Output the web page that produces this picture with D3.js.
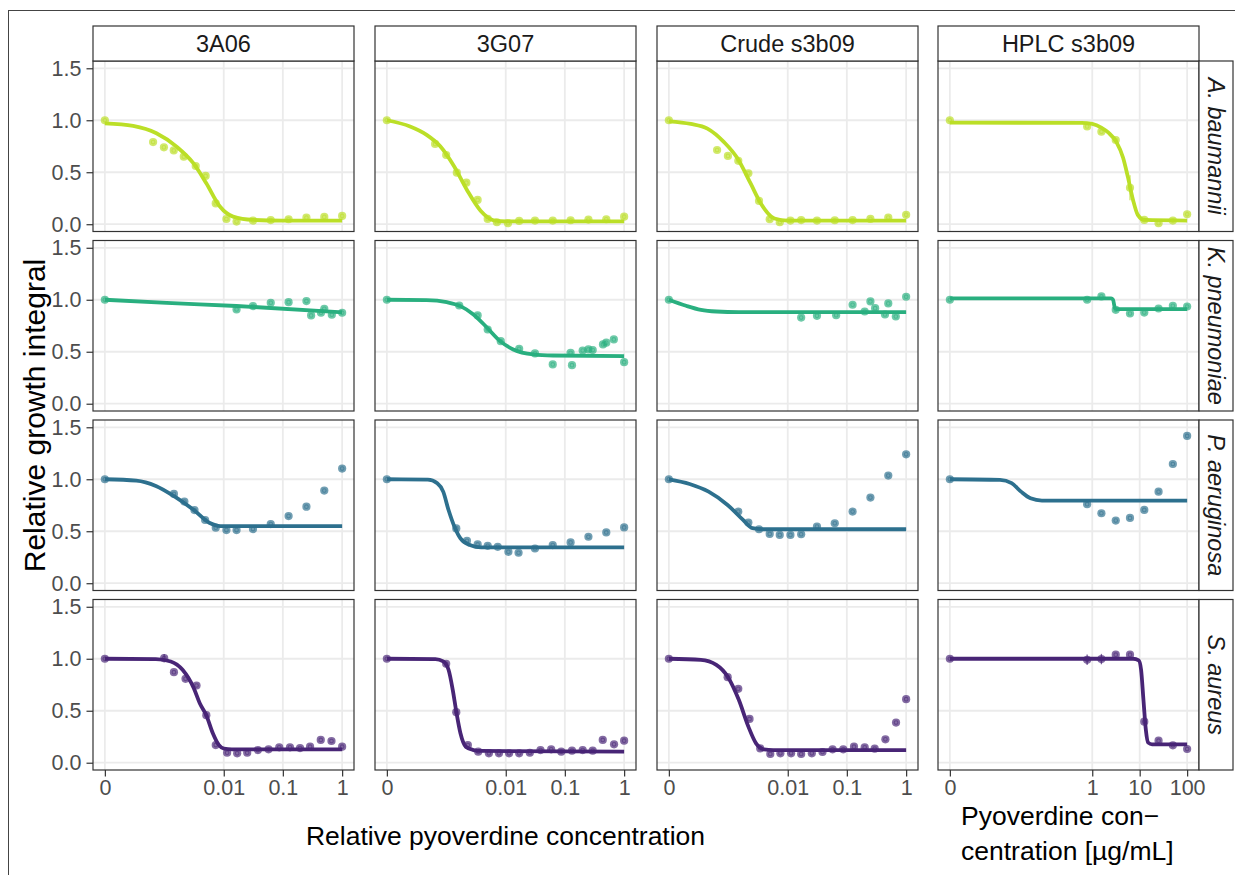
<!DOCTYPE html>
<html><head><meta charset="utf-8">
<script src="https://cdn.jsdelivr.net/npm/d3@7"></script>
<style>body{margin:0;background:#fff} svg text{font-family:"Liberation Sans",Arial,sans-serif}</style>
</head><body><svg id="chart" width="1235" height="875"></svg>
<script>
// ---------------- DATA ----------------
const columns = ["3A06", "3G07", "Crude s3b09", "HPLC s3b09"];
const species = ["A. baumannii", "K. pneumoniae", "P. aeruginosa", "S. aureus"];
const speciesColors = ["#BBDF27", "#29AF7F", "#2D708E", "#482576"];
const yTicks = [0, 0.5, 1.0, 1.5];
const yTickLabels = ["0.0", "0.5", "1.0", "1.5"];
const xTicksRelative = [0, 0.01, 0.1, 1];
const xTickLabelsRelative = ["0", "0.01", "0.1", "1"];
const xTicksHPLC = [0, 1, 10, 100];
const xTickLabelsHPLC = ["0", "1", "10", "100"];
const xTitleRelative = "Relative pyoverdine concentration";
const xTitleHPLC = ["Pyoverdine con\u2212", "centration [\u00b5g/mL]"];
const yTitle = "Relative growth integral";

// observations: [concentration, relative growth integral, optional error half-width]
const pts_Ab_3A06 = [[0,1.0],[0.00055,0.79],[0.00089,0.74],[0.00135,0.71],[0.00204,0.65],[0.0033,0.56],[0.0049,0.465],[0.0073,0.2],[0.0111,0.05],[0.0165,0.025],[0.0313,0.035],[0.0625,0.04],[0.125,0.048],[0.25,0.063],[0.5,0.07],[1,0.08]];
const pts_Ab_3G07 = [[0,1.0],[0.00055,0.772],[0.0009,0.666],[0.00141,0.496],[0.00209,0.40],[0.00329,0.234],[0.00491,0.051],[0.00706,0.019],[0.0109,0.01],[0.0169,0.032],[0.0313,0.035],[0.0625,0.035],[0.125,0.038],[0.25,0.045],[0.5,0.048],[1,0.073]];
const pts_Ab_Crude = [[0,1.0],[0.00055,0.714],[0.00089,0.657],[0.00138,0.61],[0.00209,0.49],[0.00321,0.224],[0.00491,0.048],[0.00731,0.019],[0.0111,0.035],[0.0169,0.04],[0.0313,0.035],[0.0625,0.038],[0.125,0.04],[0.25,0.051],[0.5,0.064],[1,0.09]];
const pts_Ab_HPLC = [[0,1.0],[0.78,0.94],[1.56,0.89],[3.13,0.81],[6.25,0.35,0.12],[12.5,0.041],[25,0.01],[50,0.035],[100,0.096]];

const pts_Kp_3A06 = [[0,1.0],[0.0165,0.907],[0.0313,0.939],[0.0625,0.971],[0.125,0.977],[0.25,0.987],[0.30,0.849],[0.44,0.875],[0.5,0.913],[0.67,0.856],[1,0.875]];
const pts_Kp_3G07 = [[0,1.0],[0.00156,0.945],[0.00329,0.849],[0.00491,0.714],[0.00822,0.602],[0.0169,0.529],[0.0313,0.484],[0.0625,0.378],[0.125,0.49],[0.132,0.371],[0.2,0.512],[0.25,0.522],[0.295,0.516],[0.44,0.57],[0.5,0.587],[0.67,0.618],[1,0.40]];
const pts_Kp_Crude = [[0,1.0],[0.0169,0.829],[0.0313,0.845],[0.066,0.852],[0.125,0.952],[0.2,0.887],[0.25,0.984],[0.3,0.919],[0.44,0.858],[0.5,0.965],[0.67,0.839],[1,1.029]];
const pts_Kp_HPLC = [[0,1.0],[0.78,1.0],[1.56,1.032],[3.13,0.903],[6.25,0.868],[12.5,0.877],[25,0.916],[50,0.942],[100,0.935]];

const pts_Pa_3A06 = [[0,1.0],[0.00136,0.859],[0.00209,0.785],[0.00314,0.704],[0.0048,0.608],[0.0073,0.534],[0.0111,0.511],[0.0165,0.511],[0.0313,0.521],[0.0625,0.569],[0.125,0.646],[0.25,0.736],[0.5,0.891],[1,1.103]];
const pts_Pa_3G07 = [[0,1.0],[0.00138,0.527],[0.00214,0.408],[0.00329,0.373],[0.00491,0.36],[0.0073,0.35],[0.0111,0.302],[0.0165,0.293],[0.0313,0.334],[0.0625,0.367],[0.125,0.392],[0.25,0.447],[0.5,0.489],[1,0.537]];
const pts_Pa_Crude = [[0,1.0],[0.00138,0.689],[0.00209,0.583],[0.00321,0.519],[0.00491,0.474],[0.0073,0.465],[0.0111,0.465],[0.0169,0.471],[0.0313,0.545],[0.0625,0.577],[0.125,0.689],[0.25,0.824],[0.5,1.035],[1,1.24]];
const pts_Pa_HPLC = [[0,1.0],[0.78,0.76],[1.56,0.673],[3.13,0.603],[6.25,0.628],[12.5,0.705],[25,0.881],[50,1.147],[100,1.417]];

const pts_Sa_3A06 = [[0,1.0],[0.0009,1.006,0.04],[0.00136,0.871],[0.00219,0.807],[0.00341,0.743],[0.00503,0.457],[0.0073,0.17],[0.0114,0.096],[0.0169,0.09],[0.025,0.096],[0.0379,0.122],[0.0574,0.129],[0.087,0.148],[0.132,0.148],[0.195,0.141],[0.288,0.154],[0.436,0.219],[0.661,0.209],[1,0.154]];
const pts_Sa_3G07 = [[0,1.0],[0.0009,0.952],[0.00138,0.486],[0.00222,0.17],[0.00337,0.106],[0.00515,0.09],[0.00766,0.09],[0.0114,0.09],[0.0169,0.09],[0.0256,0.096],[0.0388,0.122],[0.0588,0.129],[0.087,0.106],[0.132,0.116],[0.2,0.122],[0.295,0.116],[0.436,0.219],[0.676,0.177],[1,0.212]];
const pts_Sa_Crude = [[0,1.0],[0.00088,0.823],[0.00138,0.711],[0.00219,0.421],[0.00337,0.138],[0.00503,0.084],[0.00749,0.09],[0.0114,0.09],[0.0169,0.084],[0.0256,0.09],[0.0388,0.103],[0.0574,0.129],[0.087,0.129],[0.132,0.154],[0.2,0.148],[0.295,0.135],[0.447,0.225],[0.676,0.386],[1,0.611]];
const pts_Sa_HPLC = [[0,1.0],[0.78,0.99,0.05],[1.56,0.997,0.05],[3.13,1.039],[6.25,1.039],[12.5,0.395],[25,0.212],[50,0.167],[100,0.132]];

// fitted dose-response curves: [concentration, value]
const fit_Ab_3A06 = [[0,0.97],[0.0002,0.945],[0.00064,0.875],[0.00152,0.746],[0.003,0.587],[0.00503,0.394],[0.0086,0.17],[0.0144,0.073],[0.0315,0.041],[0.1,0.035],[1,0.035]];
const fit_Ab_3G07 = [[0,1.0],[0.000146,0.94],[0.000368,0.86],[0.000694,0.75],[0.00125,0.56],[0.00214,0.33],[0.0037,0.13],[0.00621,0.038],[0.0104,0.027],[1,0.027]];
const fit_Ab_Crude = [[0,0.99],[0.000134,0.965],[0.000347,0.92],[0.000751,0.79],[0.00135,0.63],[0.0023,0.39],[0.00345,0.2],[0.00593,0.055],[0.0099,0.035],[1,0.035]];
const fit_Ab_HPLC = [[0,0.977],[0.6,0.975],[1.0,0.965],[1.55,0.93],[2.2,0.88],[3.24,0.79],[4.47,0.64],[5.62,0.458],[7.24,0.234],[9.12,0.09],[12.6,0.041],[100,0.035]];

const fit_Kp_3A06 = [[0,1.0],[0.001,0.97],[0.0165,0.94],[1,0.88]];
const fit_Kp_3G07 = [[0,1.0],[0.000368,0.997],[0.000923,0.977],[0.00164,0.939],[0.00278,0.859],[0.0048,0.731],[0.00803,0.602],[0.0134,0.522],[0.0294,0.474],[0.063,0.464],[1,0.458]];
const fit_Kp_Crude = [[0,1.0],[0.000095,0.942],[0.000247,0.903],[0.000531,0.887],[0.00141,0.881],[1,0.881]];
const fit_Kp_HPLC = [[0,1.013],[2.5,1.013],[2.75,1.0],[3.0,0.92],[3.2,0.91],[100,0.91]];

const fit_Pa_3A06 = [[0,1.0],[0.000239,0.987],[0.000624,0.936],[0.00141,0.833],[0.00306,0.704],[0.00565,0.582],[0.00881,0.55],[0.0137,0.55],[1,0.55]];
const fit_Pa_3G07 = [[0,1.0],[0.00039,0.997],[0.000608,0.961],[0.000791,0.881],[0.000996,0.704],[0.00128,0.543],[0.00164,0.431],[0.00241,0.367],[0.00379,0.344],[1,0.344]];
const fit_Pa_Crude = [[0,1.0],[0.000124,0.955],[0.000368,0.881],[0.000877,0.753],[0.00168,0.609],[0.00247,0.529],[0.00362,0.519],[1,0.519]];
const fit_Pa_HPLC = [[0,1.0],[0.0104,0.994],[0.019,0.962],[0.0306,0.881],[0.0491,0.817],[0.0861,0.795],[100,0.795]];

const fit_Sa_3A06 = [[0,1.0],[0.000624,0.997],[0.00119,0.974],[0.00194,0.894],[0.00306,0.717],[0.00388,0.572],[0.00503,0.457],[0.00651,0.283],[0.00822,0.171],[0.0101,0.135],[0.0137,0.129],[1,0.129]];
const fit_Sa_3G07 = [[0,1.0],[0.000561,0.997],[0.000791,0.974],[0.000996,0.894],[0.00119,0.701],[0.00138,0.492],[0.00164,0.283],[0.00204,0.154],[0.00278,0.122],[0.00379,0.113],[1,0.106]];
const fit_Sa_Crude = [[0,1.0],[0.000247,0.99],[0.000531,0.942],[0.000877,0.83],[0.00141,0.605],[0.00209,0.347],[0.00285,0.186],[0.00388,0.129],[0.00565,0.122],[1,0.122]];
const fit_Sa_HPLC = [[0,1.0],[7.24,1.0],[9.55,0.984],[10.7,0.894],[12.0,0.605],[13.5,0.315],[15.1,0.193],[18.2,0.177],[100,0.177]];

const pointsGrid = [
  [pts_Ab_3A06, pts_Ab_3G07, pts_Ab_Crude, pts_Ab_HPLC],
  [pts_Kp_3A06, pts_Kp_3G07, pts_Kp_Crude, pts_Kp_HPLC],
  [pts_Pa_3A06, pts_Pa_3G07, pts_Pa_Crude, pts_Pa_HPLC],
  [pts_Sa_3A06, pts_Sa_3G07, pts_Sa_Crude, pts_Sa_HPLC]
];
const fitGrid = [
  [fit_Ab_3A06, fit_Ab_3G07, fit_Ab_Crude, fit_Ab_HPLC],
  [fit_Kp_3A06, fit_Kp_3G07, fit_Kp_Crude, fit_Kp_HPLC],
  [fit_Pa_3A06, fit_Pa_3G07, fit_Pa_Crude, fit_Pa_HPLC],
  [fit_Sa_3A06, fit_Sa_3G07, fit_Sa_Crude, fit_Sa_HPLC]
];

// ---------------- LAYOUT ----------------
const svg = d3.select("#chart");
const colX = [93, 375, 657, 938], panelW = 261;
const rowY = [61, 240.5, 420, 599.5], panelH = 170.5;
const stripTop = 26, stripH = 35, rStripX = 1199, rStripW = 34;
const tickFont = 21.5, stripFont = 23.5, titleFont = 26.5, yTitleFont = 30;
const gridColor = "#EBEBEB", borderColor = "#333333", tickTextColor = "#4D4D4D";

svg.append("rect").attr("x", 8.5).attr("y", 10.5).attr("width", 1240).attr("height", 880)
  .attr("fill", "none").attr("stroke", "#444").attr("stroke-width", 1);

function makeX(col) {
  const hplc = col === 3;
  const c = hplc ? 1e-3 : 1e-4, maxV = hplc ? 100 : 1;
  const T = Math.log1p(maxV / c), e = 0.05 * T;
  return d3.scaleSymlog().constant(c)
    .domain([-c * Math.expm1(e), c * Math.expm1(T + e)])
    .range([colX[col], colX[col] + panelW]);
}
function makeY(row) {
  return d3.scaleLinear().domain([-0.07, 1.57]).range([rowY[row] + panelH, rowY[row]]);
}

for (let r = 0; r < 4; r++) {
  for (let c = 0; c < 4; c++) {
    const x = makeX(c), y = makeY(r);
    const xt = c === 3 ? xTicksHPLC : xTicksRelative;
    const g = svg.append("g");
    g.append("rect").attr("x", colX[c]).attr("y", rowY[r]).attr("width", panelW).attr("height", panelH).attr("fill", "#fff");
    g.selectAll(".gy").data(yTicks).join("line")
      .attr("x1", colX[c]).attr("x2", colX[c] + panelW)
      .attr("y1", d => y(d)).attr("y2", d => y(d))
      .attr("stroke", gridColor).attr("stroke-width", 1.8);
    g.selectAll(".gx").data(xt).join("line")
      .attr("x1", d => x(d)).attr("x2", d => x(d))
      .attr("y1", rowY[r]).attr("y2", rowY[r] + panelH)
      .attr("stroke", gridColor).attr("stroke-width", 1.8);
    const col = speciesColors[r];
    const line = d3.line().x(d => x(d[0])).y(d => y(d[1])).curve(d3.curveMonotoneX);
    g.append("path").datum(fitGrid[r][c]).attr("d", line)
      .attr("fill", "none").attr("stroke", col).attr("stroke-width", 3.8).attr("stroke-linejoin", "round");
    const pts = pointsGrid[r][c];
    g.selectAll(".eb").data(pts.filter(d => d.length > 2)).join("line")
      .attr("x1", d => x(d[0])).attr("x2", d => x(d[0]))
      .attr("y1", d => y(d[1] - d[2])).attr("y2", d => y(d[1] + d[2]))
      .attr("stroke", col).attr("stroke-width", 1.3).attr("opacity", 0.7);
    g.selectAll(".pt").data(pts).join("circle")
      .attr("cx", d => x(d[0])).attr("cy", d => y(d[1])).attr("r", 4.1)
      .attr("fill", col).attr("fill-opacity", 0.68);
    g.selectAll(".pr").data(pts).join("circle")
      .attr("cx", d => x(d[0])).attr("cy", d => y(d[1])).attr("r", 1.8)
      .attr("fill", "none").attr("stroke", col).attr("stroke-width", 1.1).attr("stroke-opacity", 0.55);
    g.append("rect").attr("x", colX[c]).attr("y", rowY[r]).attr("width", panelW).attr("height", panelH)
      .attr("fill", "none").attr("stroke", borderColor).attr("stroke-width", 1.2);

    if (c === 0) {
      const ax = svg.append("g").attr("transform", `translate(${colX[0]},0)`)
        .call(d3.axisLeft(y).tickValues(yTicks).tickFormat((d, i) => yTickLabels[i]).tickSize(6.5).tickPadding(5));
      ax.select(".domain").remove();
      ax.selectAll("line").attr("stroke", borderColor).attr("stroke-width", 1.2);
      ax.selectAll("text").attr("font-size", tickFont).attr("fill", tickTextColor)
        .attr("font-family", '"Liberation Sans",Arial,sans-serif');
    }
    if (r === 3) {
      const labs = c === 3 ? xTickLabelsHPLC : xTickLabelsRelative;
      const ax = svg.append("g").attr("transform", `translate(0,${rowY[3] + panelH})`)
        .call(d3.axisBottom(x).tickValues(xt).tickFormat((d, i) => labs[i]).tickSize(6.5).tickPadding(3.5));
      ax.select(".domain").remove();
      ax.selectAll("line").attr("stroke", borderColor).attr("stroke-width", 1.2);
      ax.selectAll("text").attr("font-size", tickFont).attr("fill", tickTextColor)
        .attr("font-family", '"Liberation Sans",Arial,sans-serif');
    }
  }
}

// top strips
columns.forEach((name, c) => {
  svg.append("rect").attr("x", colX[c]).attr("y", stripTop).attr("width", panelW).attr("height", stripH)
    .attr("fill", "#fff").attr("stroke", borderColor).attr("stroke-width", 1.2);
  svg.append("text").attr("x", colX[c] + panelW / 2).attr("y", 52).attr("text-anchor", "middle")
    .attr("font-size", stripFont).attr("fill", "#1A1A1A").text(name);
});
// right strips
species.forEach((name, r) => {
  svg.append("rect").attr("x", rStripX).attr("y", rowY[r]).attr("width", rStripW).attr("height", panelH)
    .attr("fill", "#fff").attr("stroke", borderColor).attr("stroke-width", 1.2);
  const cy = rowY[r] + panelH / 2;
  svg.append("text").attr("transform", `translate(1207.6,${cy}) rotate(90)`).attr("text-anchor", "middle")
    .attr("font-size", stripFont).attr("font-style", "italic").attr("fill", "#1A1A1A").text(name);
});

// axis titles
svg.append("text").attr("x", (colX[0] + colX[2] + panelW) / 2).attr("y", 845).attr("text-anchor", "middle")
  .attr("font-size", titleFont).attr("fill", "#000").text(xTitleRelative);
xTitleHPLC.forEach((t, i) => {
  svg.append("text").attr("x", 961).attr("y", 825 + i * 35).attr("text-anchor", "start")
    .attr("font-size", titleFont).attr("fill", "#000").text(t);
});
svg.append("text").attr("transform", `translate(45,${(rowY[0] + rowY[3] + panelH) / 2}) rotate(-90)`)
  .attr("text-anchor", "middle").attr("font-size", yTitleFont).attr("fill", "#000").text(yTitle);
</script>
</body></html>
